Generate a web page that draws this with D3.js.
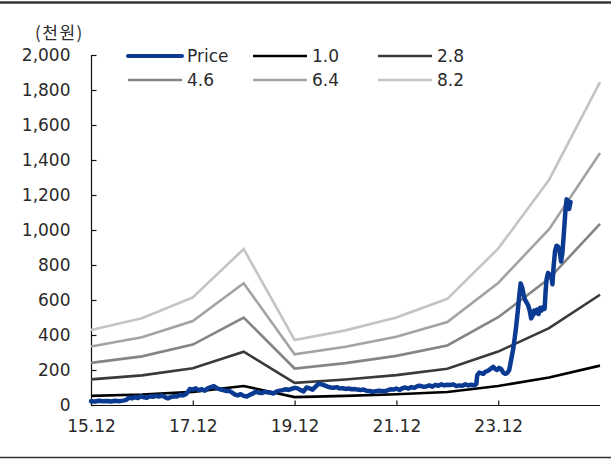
<!DOCTYPE html>
<html>
<head>
<meta charset="utf-8">
<script src="https://cdn.jsdelivr.net/npm/d3@7"></script>
<style>
  html, body { margin: 0; padding: 0; background: #fff; }
  svg { display: block; }
  text { font-family: "DejaVu Sans", "Liberation Sans", Arial, sans-serif; fill: #2a2a2a; }
</style>
</head>
<body>
<svg id="chart" width="615" height="459"></svg>
<script>
// Year-end points of the band (December of each year)
const bandYears = [2015, 2016, 2017, 2018, 2019, 2020, 2021, 2022, 2023, 2024, 2025];
// Book value per share (thousand won) at each year end
const bps = [52.3, 60.4, 75, 108.7, 45.3, 52, 61, 74, 109, 157, 225];
// Band multiples
const multiples = [1.0, 2.8, 4.6, 6.4, 8.2];
const multipleLabels = ["1.0", "2.8", "4.6", "6.4", "8.2"];
const bandColors = ["#000000", "#3a3a3a", "#858585", "#a3a3a3", "#c4c4c4"];

// Share price (thousand won): [decimal year, price]
const price = [
  [2015.917, 22], [2015.995, 20], [2016.074, 24], [2016.152, 21], [2016.231, 23],
  [2016.309, 20], [2016.388, 24], [2016.466, 22], [2016.544, 25], [2016.603, 28],
  [2016.662, 42], [2016.721, 38], [2016.780, 45], [2016.839, 40], [2016.897, 50],
  [2016.956, 44], [2017.015, 42], [2017.074, 50], [2017.133, 47], [2017.192, 52],
  [2017.250, 48], [2017.309, 55], [2017.368, 45], [2017.427, 38], [2017.486, 46],
  [2017.544, 50], [2017.603, 48], [2017.662, 57], [2017.721, 55], [2017.780, 62],
  [2017.819, 75], [2017.858, 92], [2017.917, 88], [2017.976, 95], [2018.035, 85],
  [2018.093, 90], [2018.152, 82], [2018.211, 95], [2018.270, 102], [2018.329, 108],
  [2018.388, 96], [2018.446, 90], [2018.505, 86], [2018.564, 80], [2018.623, 82],
  [2018.682, 72], [2018.741, 60], [2018.799, 55], [2018.858, 62], [2018.917, 52],
  [2018.976, 48], [2019.035, 58], [2019.093, 65], [2019.152, 76], [2019.211, 70],
  [2019.270, 68], [2019.329, 75], [2019.388, 72], [2019.446, 70], [2019.505, 66],
  [2019.564, 78], [2019.623, 82], [2019.682, 85], [2019.741, 90], [2019.799, 86],
  [2019.858, 92], [2019.917, 98], [2019.976, 95], [2020.035, 85], [2020.093, 78],
  [2020.152, 100], [2020.211, 95], [2020.270, 88], [2020.329, 105], [2020.388, 122],
  [2020.446, 118], [2020.505, 112], [2020.564, 105], [2020.623, 100], [2020.682, 98],
  [2020.741, 102], [2020.799, 95], [2020.858, 96], [2020.917, 92], [2020.976, 94],
  [2021.035, 90], [2021.093, 91], [2021.152, 88], [2021.211, 86], [2021.270, 88],
  [2021.329, 82], [2021.388, 80], [2021.446, 76], [2021.505, 78], [2021.564, 82],
  [2021.623, 80], [2021.682, 78], [2021.741, 84], [2021.799, 90], [2021.858, 88],
  [2021.917, 94], [2021.976, 86], [2022.035, 96], [2022.093, 100], [2022.152, 94],
  [2022.211, 102], [2022.270, 98], [2022.329, 108], [2022.388, 110], [2022.446, 104],
  [2022.505, 106], [2022.564, 112], [2022.623, 105], [2022.682, 115], [2022.741, 110],
  [2022.799, 118], [2022.858, 112], [2022.917, 116], [2022.976, 114], [2023.035, 118],
  [2023.093, 108], [2023.152, 112], [2023.211, 110], [2023.270, 118], [2023.329, 112],
  [2023.388, 116], [2023.446, 112], [2023.486, 120], [2023.505, 170], [2023.544, 185],
  [2023.584, 182], [2023.623, 178], [2023.662, 190], [2023.701, 194], [2023.740, 200],
  [2023.780, 210], [2023.819, 218], [2023.858, 205], [2023.897, 200], [2023.936, 212],
  [2023.976, 205], [2024.015, 185], [2024.054, 178], [2024.093, 182], [2024.133, 200],
  [2024.172, 260], [2024.211, 320], [2024.240, 380], [2024.270, 450], [2024.299, 530],
  [2024.329, 620], [2024.358, 695], [2024.388, 670], [2024.417, 630], [2024.446, 600],
  [2024.476, 585], [2024.505, 570], [2024.535, 540], [2024.564, 495], [2024.593, 510],
  [2024.623, 540], [2024.652, 525], [2024.682, 545], [2024.711, 520], [2024.740, 555],
  [2024.770, 540], [2024.799, 560], [2024.829, 550], [2024.848, 650], [2024.868, 720],
  [2024.897, 755], [2024.927, 740], [2024.956, 745], [2024.982, 690], [2025.005, 790],
  [2025.034, 880], [2025.064, 910], [2025.093, 905], [2025.123, 880], [2025.152, 820],
  [2025.178, 870], [2025.201, 960], [2025.221, 1040], [2025.240, 1120], [2025.260, 1175],
  [2025.280, 1170], [2025.309, 1120], [2025.338, 1160]
];

// Axis ticks
const xTickYears = [2015, 2017, 2019, 2021, 2023];
const xTickLabels = ["15.12", "17.12", "19.12", "21.12", "23.12"];
const yTicks = [0, 200, 400, 600, 800, 1000, 1200, 1400, 1600, 1800, 2000];
const unitLabel = "(천원)";

const svg = d3.select("#chart");
const DEC = 11 / 12;

const x = d3.scaleLinear().domain([2015 + DEC, 2025 + DEC]).range([91, 600]);
const y = d3.scaleLinear().domain([0, 2000]).range([405, 55]);

// Top and bottom rules
svg.append("line").attr("x1", 0).attr("x2", 611).attr("y1", 2.5).attr("y2", 2.5)
  .attr("stroke", "#333").attr("stroke-width", 2.5);
svg.append("line").attr("x1", 0).attr("x2", 611).attr("y1", 457.5).attr("y2", 457.5)
  .attr("stroke", "#333").attr("stroke-width", 1.5);

// Axes
const yAxis = d3.axisLeft(y).tickValues(yTicks).tickFormat(d3.format(","))
  .tickSizeInner(-5).tickSizeOuter(0).tickPadding(21);
const gy = svg.append("g").attr("transform", "translate(91.5,0)").call(yAxis);

const xAxis = d3.axisBottom(x).tickValues(xTickYears.map(v => v + DEC))
  .tickFormat((d, i) => xTickLabels[i]).tickSizeInner(-5).tickSizeOuter(0).tickPadding(14);
const gx = svg.append("g").attr("transform", "translate(0,405.5)").call(xAxis);

[gx, gy].forEach(g => {
  g.select(".domain").attr("stroke", "#111").attr("stroke-width", 1.2);
  g.selectAll(".tick line").attr("stroke", "#111").attr("stroke-width", 1.2);
  g.selectAll(".tick text").attr("fill", "#2a2a2a")
    .style("font-family", "'DejaVu Sans', sans-serif").style("font-size", "17px");
});
gy.select(".domain").attr("d", "M0,55V405");
gx.select(".domain").attr("d", "M91,0H600");

svg.append("text").attr("x", 35).attr("y", 39)
  .style("font-family", "'Noto Sans CJK KR', sans-serif").style("font-size", "17px")
  .style("letter-spacing", "1.5px")
  .attr("fill", "#2a2a2a").text(unitLabel);

// Band lines
const line = d3.line().x(d => x(d[0])).y(d => y(d[1]));
multiples.forEach((m, i) => {
  const pts = bandYears.map((yr, j) => [yr + DEC, bps[j] * m]);
  svg.append("path").datum(pts).attr("d", line)
    .attr("fill", "none").attr("stroke", bandColors[i]).attr("stroke-width", 2.6)
    .attr("stroke-linejoin", "miter");
});

// Price line
const priceColor = "#0B3A92";
svg.append("path").datum(price).attr("d", line)
  .attr("fill", "none").attr("stroke", priceColor).attr("stroke-width", 4.5)
  .attr("stroke-linejoin", "round").attr("stroke-linecap", "round");

// Legend
const legendItems = [
  { label: "Price", color: priceColor, w: 4 },
  ...multipleLabels.map((l, i) => ({ label: l, color: bandColors[i], w: 2.6 }))
];
legendItems.forEach((d, i) => {
  const col = i % 3, row = Math.floor(i / 3);
  const lx = 128 + col * 125, ly = 56 + row * 24;
  svg.append("line").attr("x1", lx).attr("x2", lx + 54).attr("y1", ly).attr("y2", ly)
    .attr("stroke", d.color).attr("stroke-width", d.w)
    .attr("stroke-linecap", i === 0 ? "round" : "butt");
  svg.append("text").attr("x", lx + 59).attr("y", ly).attr("dy", "0.36em")
    .style("font-size", "17px").attr("fill", "#2a2a2a").text(d.label);
});
</script>
</body>
</html>
